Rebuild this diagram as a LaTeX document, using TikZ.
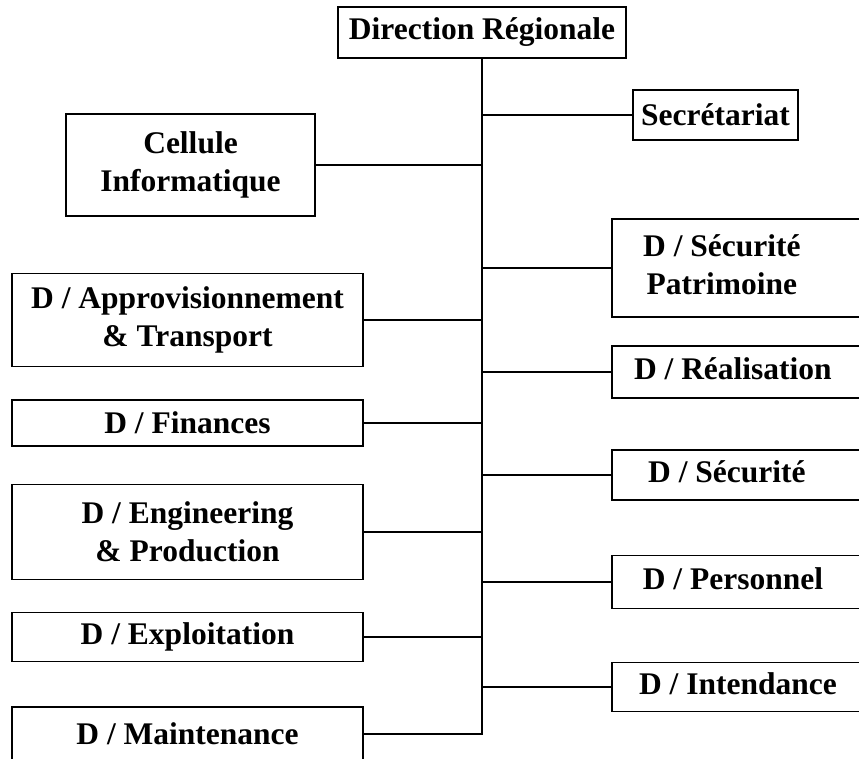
\documentclass[tikz,border=0pt]{standalone}
\usepackage{fontspec}
\setmainfont{Liberation Serif}
% centred text block of a given width, set flush left in a wide box
\newcommand\rtext[2]{\makebox[269pt][l]{\makebox[#1pt][c]{\begin{tabular}{@{}c@{}}#2\end{tabular}}}}
\begin{document}
\begin{tikzpicture}[x=1pt,y=-1pt,
  box/.style={draw, line width=1.8pt, rectangle, inner sep=0pt,
    font=\fontsize{31.5}{38}\selectfont\bfseries, align=center},
  rbox/.style={box, anchor=west},
  link/.style={line width=1.8pt}]
\fill[white] (0,0) rectangle (859,758);
\useasboundingbox (0,0) rectangle (859,758);
\clip (0,0) rectangle (859,758);

% head
\node[box, minimum width=288, minimum height=51] (dr) at (482,32.5) {Direction Régionale};

% left column
\node[box, minimum width=249, minimum height=102] (cell)  at (190.5,165) {Cellule\\Informatique};
\node[box, minimum width=351, minimum height=93]  (appro) at (187.5,320) {D / Approvisionnement\\\& Transport};
\node[box, minimum width=351, minimum height=46]  (fin)   at (187.5,423) {D / Finances};
\node[box, minimum width=351, minimum height=95]  (eng)   at (187.5,532) {D / Engineering\\\& Production};
\node[box, minimum width=351, minimum height=49]  (expl)  at (187.5,637) {D / Exploitation};
\node[box, minimum width=351, minimum height=54]  (maint) at (187.5,734) {D / Maintenance};

% right column
\node[box, minimum width=165, minimum height=50]  (sec)    at (715.5,115) {Secrétariat};
\node[rbox, minimum height=98] (secpat) at (611,268) {\rtext{220}{D / Sécurité\\Patrimoine}};
\node[rbox, minimum height=52] (real)   at (611,372) {\rtext{242}{D / Réalisation}};
\node[rbox, minimum height=50] (secu)   at (611,475) {\rtext{230}{D / Sécurité}};
\node[rbox, minimum height=53] (pers)   at (611,582) {\rtext{242}{D / Personnel}};
\node[rbox, minimum height=49] (inten)  at (611,687) {\rtext{252}{D / Intendance}};

% spine
\draw[link] (maint.east) -| (dr.south);

% branches
\foreach \n in {cell, appro, fin, eng, expl}
  \draw[link] (\n.east) -- (\n.east -| dr.south);
\foreach \n in {sec, secpat, real, secu, pers, inten}
  \draw[link] (\n.west) -- (\n.west -| dr.south);
\end{tikzpicture}
\end{document}
